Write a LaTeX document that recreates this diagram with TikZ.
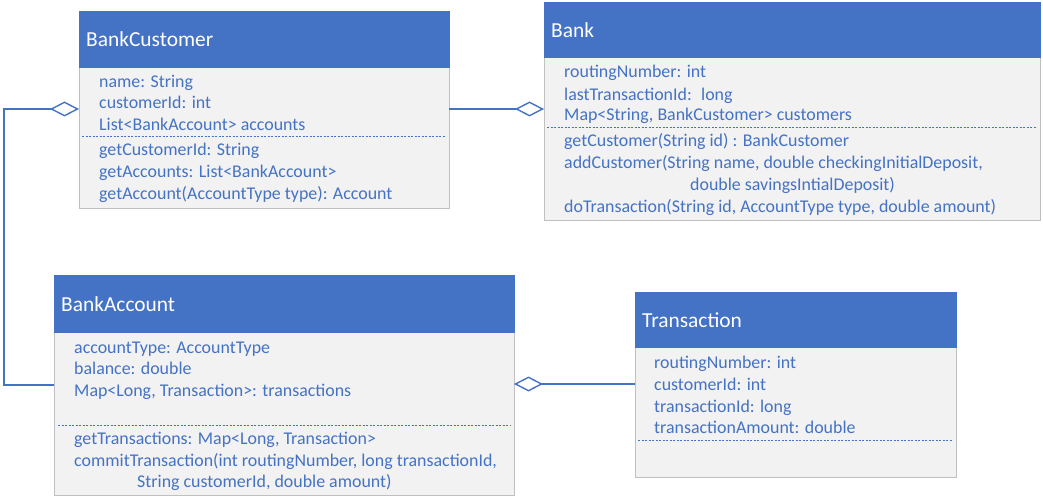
\documentclass[tikz,border=0pt]{standalone}
\usepackage{fontspec}
\setmainfont{Carlito}
\usetikzlibrary{arrows.meta}
\definecolor{ublue}{HTML}{4472C4}
\definecolor{ugray}{HTML}{F2F2F2}
\definecolor{uborder}{HTML}{C0C0C0}
\begin{document}
\begin{tikzpicture}[x=1pt,y=-1pt,
  body/.style={draw=uborder,fill=ugray,line width=0.8pt,anchor=north west,inner sep=0,outer sep=0},
  head/.style={draw=ublue,fill=ublue,anchor=north west,inner sep=0,outer sep=0},
  title/.style={anchor=west,inner sep=0,yshift=-2pt,text=white,font=\fontsize{21.4}{25}\selectfont,text height=14,text depth=4},
  txt/.style={anchor=west,inner sep=0,yshift=-2pt,text=ublue,font=\fontsize{17.9}{21}\selectfont,text height=12,text depth=4},
  dline/.style={draw=ublue,line width=1pt,dash pattern=on 2pt off 1.5pt},
  agg/.style={draw=ublue,line width=1.4pt,-{Diamond[open,fill=white,length=29pt,width=15pt,line width=1.4pt]}}
]
\useasboundingbox[fill=white] (0,0) rectangle (1043,497);

% BankCustomer
\node[body,minimum width=370,minimum height=197] (bc) at (79,11) {};
\node[head,minimum width=370,minimum height=56] (bch) at (79,11) {};
\node[title] (bct) at (86,40) {BankCustomer};
\node[txt] (bc1) at (99,82) {name: String};
\node[txt] (bc2) at (99,103) {customerId: int};
\node[txt] (bc3) at (99,125) {List<BankAccount> accounts};
\draw[dline] (82,137) -- (446,137);
\node[txt] (bc4) at (99,150) {getCustomerId: String};
\node[txt] (bc5) at (99,172) {getAccounts: List<BankAccount>};
\node[txt] (bc6) at (99,193) {getAccount(AccountType type): Account};

% Bank
\node[body,minimum width=496,minimum height=218] (bk) at (544,2) {};
\node[head,minimum width=496,minimum height=55] (bkh) at (544,2) {};
\node[title] (bkt) at (551,31) {Bank};
\node[txt] (bk1) at (564,72) {routingNumber: int};
\node[txt] (bk2) at (564,95) {lastTransactionId: \ long};
\node[txt] (bk3) at (564,115) {Map<String, BankCustomer> customers};
\draw[dline] (547,128) -- (1037,128);
\node[txt] (bk4) at (564,141) {getCustomer(String id) : BankCustomer};
\node[txt] (bk5) at (564,163) {addCustomer(String name, double checkingInitialDeposit,};
\node[txt] (bk6) at (690,184) {double savingsIntialDeposit)};
\node[txt] (bk7) at (564,206) {doTransaction(String id, AccountType type, double amount)};

% BankAccount
\node[body,minimum width=460,minimum height=220] (ba) at (54,275) {};
\node[head,minimum width=460,minimum height=57] (bah) at (54,275) {};
\node[title] (bat) at (61,304) {BankAccount};
\node[txt] (ba1) at (74,347) {accountType: AccountType};
\node[txt] (ba2) at (74,368) {balance: double};
\node[txt] (ba3) at (74,390) {Map<Long, Transaction>: transactions};
\draw[dline] (58,425) -- (510,425);
\node[txt] (ba4) at (74,438) {getTransactions: Map<Long, Transaction>};
\node[txt] (ba5) at (74,460) {commitTransaction(int routingNumber, long transactionId,};
\node[txt] (ba6) at (137,481) {String customerId, double amount)};

% Transaction
\node[body,minimum width=321,minimum height=185] (tr) at (635,292) {};
\node[head,minimum width=321,minimum height=55] (trh) at (635,292) {};
\node[title] (trt) at (642,320) {Transaction};
\node[txt] (tr1) at (654,362) {routingNumber: int};
\node[txt] (tr2) at (654,384) {customerId: int};
\node[txt] (tr3) at (654,406) {transactionId: long};
\node[txt] (tr4) at (654,427) {transactionAmount: double};
\draw[dline] (638,440) -- (953,440);

% connectors
\coordinate (p1) at (4,385);
\coordinate (p2) at (4,109);
\draw[agg] (ba.west |- p1) -- (p1) -- (p2) -- (bc.west |- p2);
\draw[agg] (bc.east |- p2) -- (bk.west |- p2);
\coordinate (p3) at (0,384);
\draw[agg] (tr.west |- p3) -- (ba.east |- p3);
\end{tikzpicture}
\end{document}
